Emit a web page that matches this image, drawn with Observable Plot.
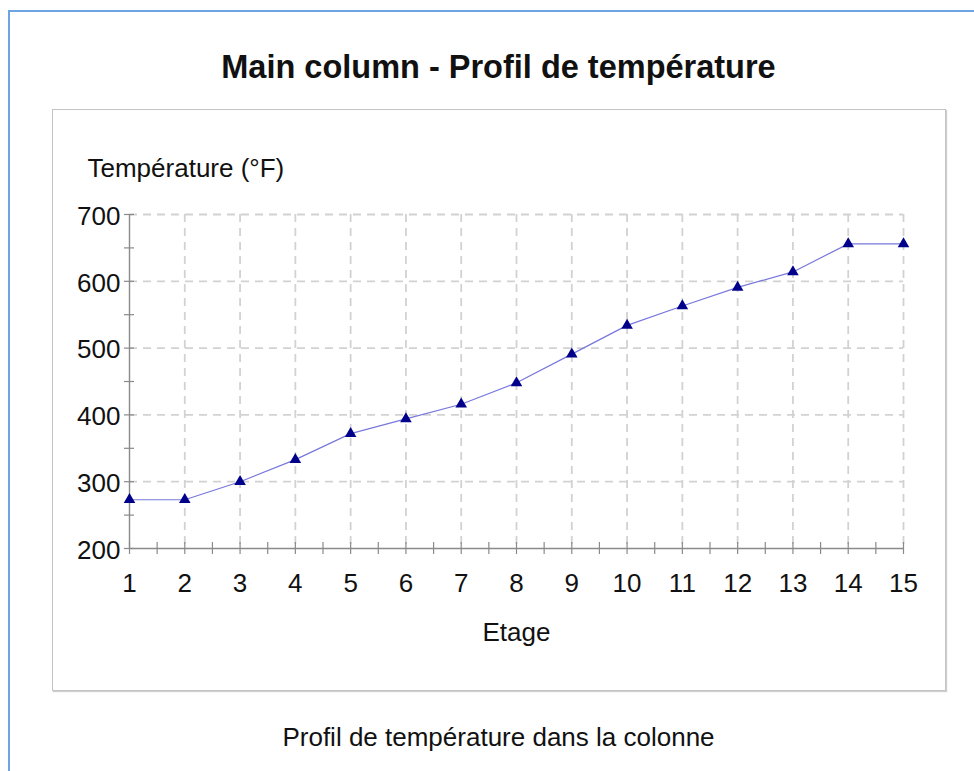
<!DOCTYPE html>
<html>
<head>
<meta charset="utf-8">
<script src="https://cdn.jsdelivr.net/npm/d3@7"></script>
<script src="https://cdn.jsdelivr.net/npm/@observablehq/plot@0.6"></script>
<style>
  html, body { margin: 0; padding: 0; background: #fff; }
  body { width: 974px; height: 771px; position: relative; overflow: hidden; font-family: "Liberation Sans", Arial, sans-serif; color: #111; }
  #outer { position: absolute; left: 8px; top: 10px; right: -10px; bottom: -10px; border-left: 2px solid #6ea4e2; border-top: 2px solid #6ea4e2; }
  #box { position: absolute; left: 52px; top: 109px; width: 892px; height: 580px; border: 1px solid #c4c4c4; box-shadow: 1px 1px 1px #cfcfcf; }
  #title { position: absolute; left: 52px; width: 893px; top: 51px; text-align: center; font-size: 32.5px; line-height: 32px; font-weight: bold; }
  #caption { position: absolute; left: 52px; width: 893px; top: 724px; text-align: center; font-size: 26px; line-height: 26px; }
  #chart { position: absolute; left: 0; top: 0; }
</style>
</head>
<body>
<div id="outer"></div>
<div id="box"></div>
<div id="title">Main column - Profil de température</div>
<div id="chart"></div>
<div id="caption">Profil de température dans la colonne</div>
<script>
const stages = [1, 2, 3, 4, 5, 6, 7, 8, 9, 10, 11, 12, 13, 14, 15];
const temperatures = [273, 273, 300, 333, 372, 394, 416, 448, 491, 534, 563, 591, 614, 656, 656];
const yTicks = [200, 300, 400, 500, 600, 700];
const yMinorTicks = [250, 350, 450, 550, 650];
const xMinorTicks = [1.5, 2.5, 3.5, 4.5, 5.5, 6.5, 7.5, 8.5, 9.5, 10.5, 11.5, 12.5, 13.5, 14.5];
const yLabel = "Température (°F)";
const xLabel = "Etage";

const data = stages.map((s, i) => ({stage: s, temp: temperatures[i]}));
const gridStyle = {stroke: "#d2d2d2", strokeWidth: 1.8, strokeDasharray: "8,6"};
const axisColor = "#8a8a8a";

const chart = Plot.plot({
  width: 974,
  height: 771,
  marginLeft: 129,
  marginRight: 71,
  marginTop: 214,
  marginBottom: 223,
  style: {fontFamily: "'Liberation Sans', Arial, sans-serif", fontSize: "26px", background: "transparent", color: "#111", overflow: "visible"},
  x: {domain: [1, 15]},
  y: {domain: [200, 700]},
  marks: [
    Plot.ruleX(stages.slice(1), gridStyle),
    Plot.ruleY(yTicks.slice(1), gridStyle),
    Plot.ruleX([stages[0]], {stroke: axisColor, strokeWidth: 1.4}),
    Plot.ruleY([yTicks[0]], {stroke: axisColor, strokeWidth: 1.4}),
    Plot.ruleX([...stages, ...xMinorTicks], {x: d => d, y1: yTicks[0], y2: yTicks[0], insetTop: -6, insetBottom: -6, stroke: axisColor, strokeWidth: 1.2}),
    Plot.ruleY([...yTicks, ...yMinorTicks], {y: d => d, x1: stages[0], x2: stages[0], insetLeft: -5, insetRight: -5, stroke: axisColor, strokeWidth: 1.2}),
    Plot.axisX({ticks: stages, tickSize: 0, tickPadding: 25, label: null, tickFormat: d => String(d), fontSize: 26}),
    Plot.axisY({ticks: yTicks, tickSize: 0, tickPadding: 9, label: null, dy: 2, fontSize: 26}),
    Plot.line(data, {x: "stage", y: "temp", stroke: "#7878dc", strokeWidth: 1.2}),
    Plot.dot(data, {x: "stage", y: "temp", symbol: "triangle", r: 4.3, fill: "#00008b", stroke: "none"}),
    Plot.text([yLabel], {text: d => d, frameAnchor: "top-left", textAnchor: "start", lineAnchor: "middle", dx: -42, dy: -46, fontSize: 26}),
    Plot.text([xLabel], {text: d => d, frameAnchor: "bottom", lineAnchor: "middle", dy: 84, fontSize: 26})
  ]
});
document.getElementById("chart").appendChild(chart);
</script>
</body>
</html>
